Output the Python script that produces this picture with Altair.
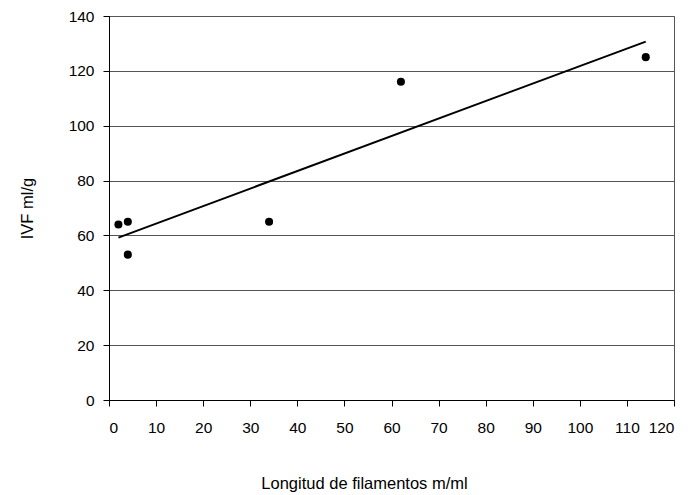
import altair as alt
import pandas as pd

longitud = [2, 4, 4, 34, 62, 114]
ivf = [64, 65, 53, 65, 116, 125]
x_ticks = list(range(0, 121, 10))
y_ticks = list(range(0, 141, 20))

df = pd.DataFrame({"x": longitud, "y": ivf})

FONT = "Liberation Sans"

xenc = alt.X(
    "x:Q",
    scale=alt.Scale(domain=[0, 120], nice=False, zero=False),
    axis=alt.Axis(
        values=x_ticks,
        title="Longitud de filamentos m/ml",
        grid=False,
        domainColor="black",
        domainWidth=1,
        tickColor="black",
        tickSize=6,
        labelPadding=14,
        labelFont=FONT,
        labelFontSize=15.5,
        labelColor="black",
        titleFont=FONT,
        titleFontSize=16.5,
        titleFontWeight="normal",
        titleColor="black",
        titleX=255,
        titleY=88,
        titleAlign="center",
        titleBaseline="alphabetic",
    ),
)
yenc = alt.Y(
    "y:Q",
    scale=alt.Scale(domain=[0, 140], nice=False, zero=False),
    axis=alt.Axis(
        values=y_ticks,
        title="IVF ml/g",
        grid=True,
        gridColor="#555555",
        gridWidth=1,
        domainColor="black",
        domainWidth=1,
        tickColor="black",
        tickSize=6,
        labelPadding=9,
        labelFont=FONT,
        labelFontSize=15.5,
        labelColor="black",
        titleFont=FONT,
        titleFontSize=16.5,
        titleFontWeight="normal",
        titleColor="black",
        titleAngle=-90,
        titleX=-77,
        titleY=192,
        titleAlign="center",
        titleBaseline="alphabetic",
    ),
)

points = alt.Chart(df).mark_circle(color="black", opacity=1, size=65).encode(x=xenc, y=yenc)

trend = (
    alt.Chart(df)
    .transform_regression("x", "y", method="linear")
    .mark_line(color="black", strokeWidth=2)
    .encode(x=xenc, y=yenc)
)

chart = (
    alt.layer(trend, points)
    .properties(
        width=565,
        height=384,
        autosize=alt.AutoSizeParams(type="none"),
        padding={"left": 109, "top": 16, "right": 17, "bottom": 95},
        background="white",
    )
    .configure_view(stroke="#555555", strokeWidth=1)
)

chart.save("out.html", embed_options={"renderer": "svg", "actions": False})
